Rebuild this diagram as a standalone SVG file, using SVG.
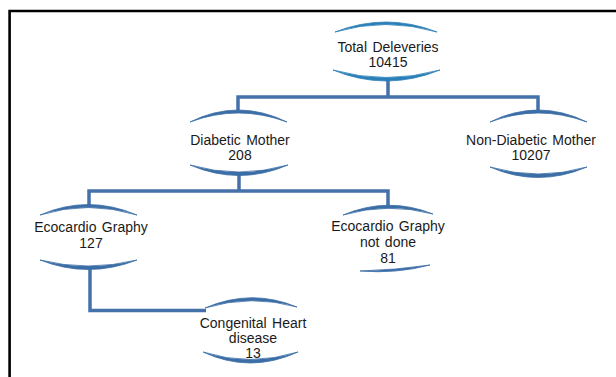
<svg xmlns="http://www.w3.org/2000/svg" width="616" height="377" viewBox="0 0 616 377">
<style>
.t{font-family:"Liberation Sans",Arial,sans-serif;font-size:14px;fill:#1a1a1a;text-anchor:middle;word-spacing:1.5px}
.arc{fill:#3b6da6;stroke:#3b6da6;stroke-width:0.8;stroke-linejoin:round}
.arcl{fill:#2a7fb8;stroke:#2a7fb8;stroke-width:0.8;stroke-linejoin:round}
.con{fill:none;stroke:#4471a9;stroke-width:3.5;stroke-linejoin:miter}
.frame{stroke:#000;stroke-width:2.6;fill:none}
</style>
<rect width="616" height="377" fill="#fff"/>
<path class="frame" d="M9.6 377 V11 H616"/>
<g id="connectors">
<path class="con" d="M388 80 V97"/>
<path class="con" d="M238 110 V97 H538 V110"/>
<path class="con" d="M239 174 V191"/>
<path class="con" d="M89 205 V191 H388 V206"/>
<path class="con" d="M90 268 V310.5 H206"/>
</g>
<g id="n-total">
<path class="arcl" d="M335 32 Q386 12 437 32 Q386 17 335 32 Z"/>
<path class="arcl" d="M333 70 Q386 92 440 70 Q386 85 333 70 Z"/>
<text class="t" x="388" y="52">Total Deleveries</text>
<text class="t" x="388" y="67">10415</text>
</g>
<g id="n-diabetic">
<path class="arc" d="M190 122 Q238 98 287 122 Q238 104 190 122 Z"/>
<path class="arc" d="M190 165 Q239 186 288 165 Q239 179 190 165 Z"/>
<text class="t" x="240" y="145">Diabetic Mother</text>
<text class="t" x="240" y="160">208</text>
</g>
<g id="n-nondiabetic">
<path class="arc" d="M490 122 Q538 98 587 122 Q538 104 490 122 Z"/>
<path class="arc" d="M490 167 Q538 188 587 167 Q538 181 490 167 Z"/>
<text class="t" x="531" y="145">Non-Diabetic Mother</text>
<text class="t" x="531" y="160">10207</text>
</g>
<g id="n-echo">
<path class="arc" d="M40 215 Q88 194 137 215 Q88 200 40 215 Z"/>
<path class="arc" d="M40 260 Q88 279 137 260 Q88 272 40 260 Z"/>
<text class="t" x="91" y="232">Ecocardio Graphy</text>
<text class="t" x="91" y="248">127</text>
</g>
<g id="n-notdone">
<path class="arc" d="M343 215 Q388 196 433 214 Q388 202 343 215 Z"/>
<path class="arc" d="M360 271 Q396 274 430 265 Q396 270 360 271 Z"/>
<text class="t" x="388" y="231">Ecocardio Graphy</text>
<text class="t" x="388" y="247">not done</text>
<text class="t" x="388" y="263">81</text>
</g>
<g id="n-congenital">
<path class="arc" d="M205 308 Q251 288 297 307 Q251 294 205 308 Z"/>
<path class="arc" d="M203 352 Q250 374 298 352 Q250 367 203 352 Z"/>
<text class="t" x="253" y="328">Congenital Heart</text>
<text class="t" x="253" y="343">disease</text>
<text class="t" x="253" y="358">13</text>
</g>
</svg>
